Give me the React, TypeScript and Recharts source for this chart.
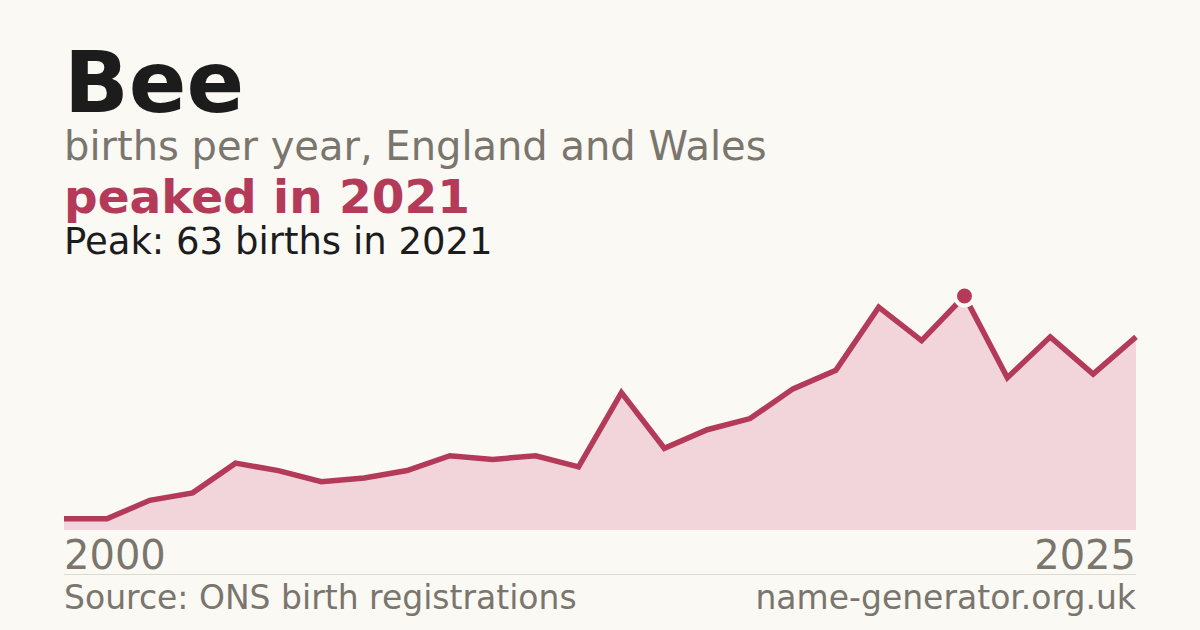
import { AreaChart, Area, XAxis, YAxis } from 'recharts';

const years = [
  2000, 2001, 2002, 2003, 2004, 2005, 2006, 2007, 2008, 2009, 2010, 2011, 2012,
  2013, 2014, 2015, 2016, 2017, 2018, 2019, 2020, 2021, 2022, 2023, 2024, 2025,
];
const births = [
  3, 3, 8, 10, 18, 16, 13, 14, 16, 20, 19, 20, 17,
  37, 22, 27, 30, 38, 43, 60, 51, 63, 41, 52, 42, 52,
];
const yearTicks = [2000, 2025];

const peakYear = 2021;
const peakValue = 63;

const BG = '#faf9f4';
const CRIMSON = '#b43a59';
const FILL = '#f2d5db';
const GREY = '#7a756d';
const INK = '#1c1c1c';
const FONT = '"DejaVu Sans", sans-serif';

const data = years.map((year, i) => ({ year, births: births[i] }));

function YearTick(props: any) {
  const { x, y, payload } = props;
  const first = payload.value === yearTicks[0];
  return (
    <text
      x={x}
      y={y + 31}
      textAnchor={first ? 'start' : 'end'}
      fill={GREY}
      fontSize={40}
      fontFamily={FONT}
    >
      {payload.value}
    </text>
  );
}

// only the peak year gets a marker
function PeakDot(props: any) {
  const { cx, cy, payload, index } = props;
  if (payload.year !== peakYear) return <g key={index} />;
  return <circle key={index} cx={cx} cy={cy} r={9.5} fill={CRIMSON} stroke={BG} strokeWidth={4} />;
}

export default function App() {
  return (
    <div style={{ position: 'absolute', left: 0, top: 0, width: 1200, height: 630, background: BG, overflow: 'hidden' }}>
      <svg width={1200} height={630} style={{ position: 'absolute', left: 0, top: 0 }} fontFamily={FONT}>
        <text x={64} y={112} fontSize={85} fontWeight="bold" fill={INK}>Bee</text>
        <text x={64} y={160} fontSize={40} fill={GREY}>births per year, England and Wales</text>
        <text x={64} y={213} fontSize={47} fontWeight="bold" fill={CRIMSON}>peaked in 2021</text>
        <text x={64} y={254} fontSize={37} fill={INK}>Peak: 63 births in 2021</text>
        <line x1={64} x2={1136} y1={574.5} y2={574.5} stroke="#dcd9d1" strokeWidth={1} />
        <text x={64} y={609} fontSize={33} fill={GREY}>Source: ONS birth registrations</text>
        <text x={1136} y={609} fontSize={33} fill={GREY} textAnchor="end">name-generator.org.uk</text>
      </svg>
      <div style={{ position: 'absolute', left: 0, top: 0 }}>
        <AreaChart width={1200} height={630} data={data} margin={{ top: 296, right: 64, bottom: 60, left: 64 }}>
          <XAxis
            dataKey="year"
            type="number"
            domain={[2000, 2025]}
            ticks={yearTicks}
            axisLine={false}
            tickLine={false}
            height={40}
            tick={<YearTick />}
            interval={0}
          />
          <YAxis hide domain={[0, peakValue]} />
          <Area
            type="linear"
            dataKey="births"
            stroke={CRIMSON}
            strokeWidth={5.5}
            strokeLinejoin="miter"
            fill={FILL}
            fillOpacity={1}
            dot={<PeakDot />}
            activeDot={false}
            isAnimationActive={false}
          />
        </AreaChart>
      </div>
    </div>
  );
}
